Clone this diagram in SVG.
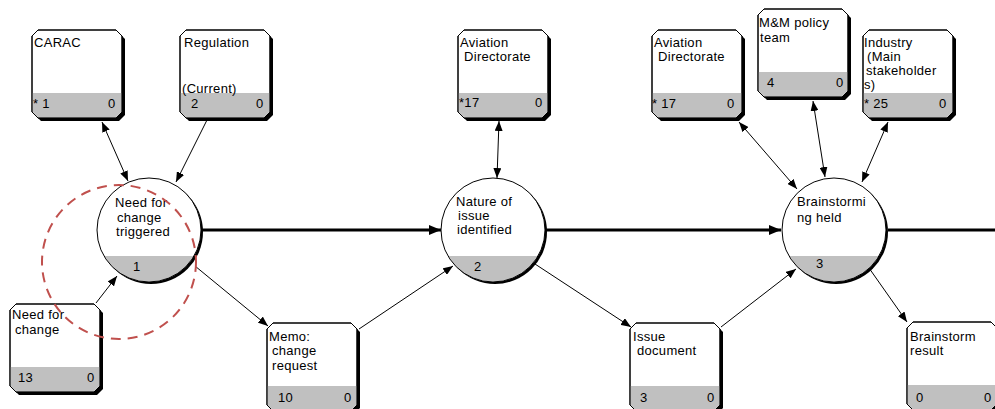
<svg xmlns="http://www.w3.org/2000/svg" xmlns:xlink="http://www.w3.org/1999/xlink" width="995" height="409" viewBox="0 0 995 409">
<style>
text{font-family:"Liberation Sans",Arial,sans-serif;font-size:13px;fill:#000;letter-spacing:0.3px}
.ln{stroke:#000;stroke-width:1;fill:none}
.main{stroke:#000;stroke-width:3;fill:none}
.hl{fill:none;stroke:#c0504d;stroke-width:2;stroke-dasharray:10 7}
</style>
<defs>
<marker id="ah" viewBox="0 0 10 8" refX="10" refY="4" markerWidth="10" markerHeight="8" markerUnits="userSpaceOnUse" orient="auto-start-reverse">
<path d="M0,0 L10,4 L0,8 Z" fill="#000"/>
</marker>
<marker id="ahb" viewBox="0 0 12 10" refX="12" refY="5" markerWidth="12" markerHeight="10" markerUnits="userSpaceOnUse" orient="auto">
<path d="M0,0 L12,5 L0,10 Z" fill="#000"/>
</marker>
<g id="box">
<path d="M9,3 H87 L93,9 V85 L87,91 H9 L3,85 V9 Z" fill="#000"/>
<path d="M6,0 H84 L90,6 V82 L84,88 H6 L0,82 V6 Z" fill="#fff" stroke="#000" stroke-width="1"/>
<path d="M0.5,63 H89.5 V82 L84,87.5 H6 L0.5,82 Z" fill="#c0c0c0"/>
<path d="M6,0 H84 L90,6 V82 L84,88 H6 L0,82 V6 Z" fill="none" stroke="#000" stroke-width="1"/>
</g>
<g id="proc">
<circle cx="2" cy="2" r="52" fill="#000"/>
<circle cx="0" cy="0" r="52" fill="#fff"/>
<path d="M-44.8,26 A52 52 0 0 0 44.8,26 Z" fill="#c0c0c0"/>
<circle cx="0" cy="0" r="52" fill="none" stroke="#000" stroke-width="1"/>
</g>
</defs>

<g id="connectors">
<line class="main" x1="202" y1="230" x2="441" y2="230" marker-end="url(#ahb)"/>
<line class="main" x1="546" y1="230" x2="781" y2="230" marker-end="url(#ahb)"/>
<line class="main" x1="888" y1="230" x2="995" y2="230"/>
<line class="ln" x1="102" y1="122" x2="128" y2="181" marker-start="url(#ah)" marker-end="url(#ah)"/>
<line class="ln" x1="207" y1="120" x2="176" y2="182" marker-end="url(#ah)"/>
<line class="ln" x1="96" y1="303" x2="117" y2="276" marker-end="url(#ah)"/>
<line class="ln" x1="195" y1="266" x2="268" y2="326" marker-end="url(#ah)"/>
<line class="ln" x1="359" y1="329" x2="453" y2="266" marker-end="url(#ah)"/>
<line class="ln" x1="499" y1="121" x2="497" y2="178" marker-start="url(#ah)" marker-end="url(#ah)"/>
<line class="ln" x1="535" y1="264" x2="631" y2="327" marker-end="url(#ah)"/>
<line class="ln" x1="721" y1="327" x2="796" y2="269" marker-end="url(#ah)"/>
<line class="ln" x1="869" y1="268" x2="907" y2="322" marker-end="url(#ah)"/>
<line class="ln" x1="739" y1="122" x2="797" y2="189" marker-start="url(#ah)" marker-end="url(#ah)"/>
<line class="ln" x1="813" y1="101" x2="825" y2="177" marker-start="url(#ah)" marker-end="url(#ah)"/>
<line class="ln" x1="888" y1="122" x2="862" y2="182" marker-start="url(#ah)" marker-end="url(#ah)"/>
</g>

<g id="carac">
<use xlink:href="#box" x="32" y="30"/>
<text x="34" y="47">CARAC</text>
<text x="33" y="108">* 1</text>
<text x="108" y="108">0</text>
</g>
<g id="regulation">
<use xlink:href="#box" x="180" y="30"/>
<text x="184" y="47">Regulation</text>
<text x="182" y="93">(Current)</text>
<text x="191" y="108">2</text>
<text x="256" y="108">0</text>
</g>
<g id="aviation1">
<use xlink:href="#box" x="458" y="30"/>
<text x="460" y="47">Aviation</text>
<text x="464" y="61">Directorate</text>
<text x="459" y="107">*17</text>
<text x="535" y="107">0</text>
</g>
<g id="aviation2">
<use xlink:href="#box" x="652" y="30"/>
<text x="654" y="47">Aviation</text>
<text x="658" y="61">Directorate</text>
<text x="652" y="108">* 17</text>
<text x="727" y="108">0</text>
</g>
<g id="mmpolicy">
<use xlink:href="#box" x="758" y="9"/>
<text x="759" y="27">M&amp;M policy</text>
<text x="760" y="42">team</text>
<text x="767" y="87">4</text>
<text x="836" y="87">0</text>
</g>
<g id="industry">
<use xlink:href="#box" x="863" y="30"/>
<text x="864" y="47">Industry</text>
<text x="867" y="61">(Main</text>
<text x="866" y="75">stakeholder</text>
<text x="864" y="89">s)</text>
<text x="864" y="108">* 25</text>
<text x="939" y="108">0</text>
</g>
<g id="needforchange">
<use xlink:href="#box" x="10" y="304"/>
<text x="12" y="319">Need for</text>
<text x="15" y="334">change</text>
<text x="18" y="382">13</text>
<text x="87" y="382">0</text>
</g>
<g id="memo">
<use xlink:href="#box" x="267" y="323"/>
<text x="269" y="341">Memo:</text>
<text x="272" y="355">change</text>
<text x="272" y="370">request</text>
<text x="278" y="402">10</text>
<text x="344" y="402">0</text>
</g>
<g id="issuedoc">
<use xlink:href="#box" x="630" y="323"/>
<text x="633" y="341">Issue</text>
<text x="637" y="355">document</text>
<text x="640" y="402">3</text>
<text x="707" y="402">0</text>
</g>
<g id="brainstormresult">
<use xlink:href="#box" x="907" y="322"/>
<text x="910" y="341">Brainstorm</text>
<text x="910" y="355">result</text>
<text x="916" y="402">0</text>
<text x="984" y="402">0</text>
</g>

<g id="proc1">
<use xlink:href="#proc" x="149" y="230"/>
<text x="115" y="207">Need for</text>
<text x="117" y="222">change</text>
<text x="116" y="236">triggered</text>
<text x="133" y="271">1</text>
</g>
<g id="proc2">
<use xlink:href="#proc" x="493" y="230"/>
<text x="456" y="206">Nature of</text>
<text x="458" y="220">issue</text>
<text x="457" y="234">identified</text>
<text x="474" y="271">2</text>
</g>
<g id="proc3">
<use xlink:href="#proc" x="834" y="230"/>
<text x="797" y="206">Brainstormi</text>
<text x="797" y="222">ng held</text>
<text x="816" y="268">3</text>
</g>

<ellipse class="hl" cx="119" cy="262" rx="77" ry="77"/>
</svg>
